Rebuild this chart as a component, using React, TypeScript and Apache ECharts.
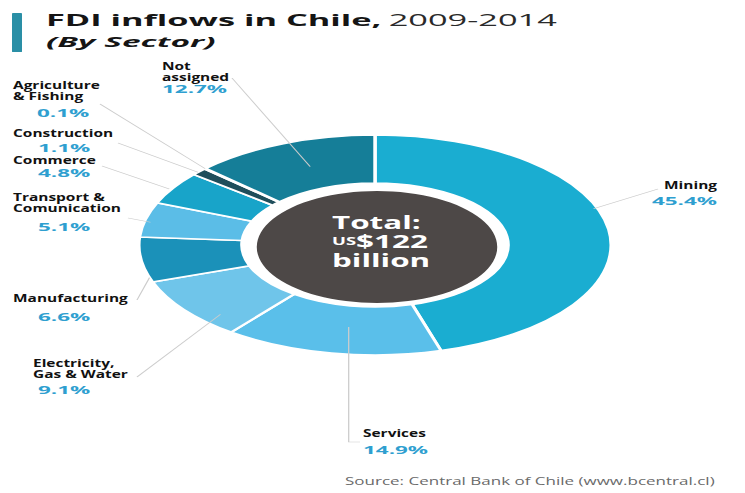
import React, { useEffect, useRef } from "react";
import * as echarts from "echarts";

// ---------- data ----------
const categories = [
  "Mining",
  "Services",
  "Electricity,\nGas & Water",
  "Manufacturing",
  "Transport &\nComunication",
  "Commerce",
  "Construction",
  "Agriculture\n& Fishing",
  "Not\nassigned",
];
const shares = [45.4, 14.9, 9.1, 6.6, 5.1, 4.8, 1.1, 0.1, 12.7];
const sliceColors = [
  "#1aadd1",
  "#5abfea",
  "#6fc5ea",
  "#1b91b9",
  "#5bbde7",
  "#18a4c9",
  "#1f4e5b",
  "#16758c",
  "#157e98",
];
const titleMain = "FDI inflows in Chile,";
const titleYears = "2009-2014";
const subtitle = "(By Sector)";
const totalLines = ["Total:", "US", "$122", "billion"];
const sourceText = "Source: Central Bank of Chile (www.bcentral.cl)";

// ---------- layout (reference pixel coordinates) ----------
const W = 745;
const H = 493;
const INNER_W = 347;
const SX = W / INNER_W; // whole picture is stretched horizontally
const CX = 375 / SX;
const CY = 245;
const R_IN = 62;
const R_OUT = 110;

type LabelLayout = {
  nx: number; ny: number; px: number; py: number; align: "left" | "right";
  t: number; r: number; pts: number[][]; vertical?: boolean;
};
const labelLayout: LabelLayout[] = [
  { nx: 717, ny: 185, px: 717, py: 201, align: "right", t: 0.43, r: 108, pts: [[658, 189]] },
  { nx: 363, ny: 433, px: 363, py: 450, align: "left", t: 0.46, r: 83, pts: [[360, 442], [350, 442]], vertical: true },
  { nx: 33, ny: 363, px: 38, py: 390, align: "left", t: 0.26, r: 100, pts: [[137, 377]] },
  { nx: 13, ny: 298, px: 38, py: 317, align: "left", t: 0.1, r: 110, pts: [[137, 300]] },
  { nx: 13, ny: 197, px: 38, py: 227, align: "left", t: 0.44, r: 107, pts: [[128, 218]] },
  { nx: 13, ny: 160, px: 38, py: 173, align: "left", t: 0.45, r: 111, pts: [[102, 166]] },
  { nx: 13, ny: 133, px: 38, py: 148, align: "left", t: 0.4, r: 110, pts: [[118, 143]] },
  { nx: 13, ny: 85, px: 37, py: 113, align: "left", t: 0.5, r: 110, pts: [[100, 104]] },
  { nx: 162, ny: 66, px: 162, py: 89, align: "left", t: 0.54, r: 84, pts: [[232, 78]] },
];

const LABEL_FONT = "'Open Sans', 'DejaVu Sans', sans-serif";

function buildOption() {
  const total = shares.reduce((a, b) => a + b, 0);
  const graphics: any[] = [];

  // title bar + titles
  graphics.push({
    type: "rect",
    shape: { x: 12 / SX, y: 13, width: 10 / SX, height: 39, r: 0.5 },
    style: { fill: "#2a8fa6" },
  });
  graphics.push({
    type: "text",
    x: 46 / SX,
    y: 20,
    style: {
      text: `{b|${titleMain}} {n|${titleYears}}`,
      verticalAlign: "middle",
      rich: {
        b: { fontFamily: LABEL_FONT, fontWeight: "bold", fontSize: 16, fill: "#151515", lineHeight: 18 },
        n: { fontFamily: LABEL_FONT, fontWeight: "normal", fontSize: 16, fill: "#2a2a2a", lineHeight: 18 },
      },
    },
  });
  graphics.push({
    type: "text",
    x: 46 / SX,
    y: 41,
    scaleX: 1.04,
    style: {
      text: subtitle,
      verticalAlign: "middle",
      fontFamily: LABEL_FONT,
      fontWeight: "bold",
      fontStyle: "italic",
      fontSize: 15,
      lineHeight: 17,
      fill: "#151515",
    },
  });

  // centre disc and total
  graphics.push({
    type: "circle",
    shape: { cx: CX + 2 / SX, cy: CY + 2, r: 56 },
    style: { fill: "#4d4847" },
  });
  graphics.push({
    type: "text",
    x: 332 / SX,
    y: 241,
    scaleX: 0.86,
    style: {
      text: `{b|${totalLines[0]}}\n{s|${totalLines[1]}}{b|${totalLines[2]}}\n{b|${totalLines[3]}}`,
      verticalAlign: "middle",
      lineHeight: 19,
      rich: {
        b: { fontFamily: LABEL_FONT, fontWeight: "bold", fontSize: 17, fill: "#ffffff", lineHeight: 19 },
        s: { fontFamily: LABEL_FONT, fontWeight: "bold", fontSize: 10, fill: "#ffffff", lineHeight: 19 },
      },
    },
  });

  // labels and leader lines
  let cum = 0;
  shares.forEach((v, i) => {
    const L = labelLayout[i];
    const f = (cum + v * L.t) / total;
    cum += v;
    const a = f * Math.PI * 2;
    const sp = [CX + L.r * Math.sin(a), CY - L.r * Math.cos(a)];
    const pts = L.pts.map((p) => [p[0] / SX, p[1]]);
    if (L.vertical) pts[pts.length - 1][0] = sp[0];
    graphics.push({
      type: "polyline",
      shape: { points: [...pts, sp] },
      style: { stroke: "#cccccc", lineWidth: 0.6, fill: null },
    });
    graphics.push({
      type: "text",
      x: L.nx / SX,
      y: L.ny - 5.5,
      scaleX: 0.72,
      style: {
        text: categories[i],
        align: L.align,
        verticalAlign: "top",
        lineHeight: 11,
        fontFamily: LABEL_FONT,
        fontWeight: "bold",
        fontSize: 10,
        fill: "#111111",
      },
    });
    graphics.push({
      type: "text",
      x: L.px / SX,
      y: L.py,
      scaleX: 0.95,
      style: {
        text: v.toFixed(1) + "%",
        align: L.align,
        verticalAlign: "middle",
        fontFamily: LABEL_FONT,
        fontWeight: "bold",
        fontSize: 11,
        fill: "#2f9fd0",
      },
    });
  });

  graphics.push({
    type: "text",
    x: 345 / SX,
    y: 481,
    scaleX: 0.72,
    style: {
      text: sourceText,
      verticalAlign: "middle",
      fontFamily: LABEL_FONT,
      fontSize: 11,
      fill: "#6a6a6a",
    },
  });

  return {
    animation: false,
    backgroundColor: "#ffffff",
    series: [
      {
        type: "pie",
        silent: true,
        center: [CX, CY],
        radius: [R_IN, R_OUT],
        startAngle: 90,
        clockwise: true,
        avoidLabelOverlap: false,
        label: { show: false },
        labelLine: { show: false },
        emphasis: { disabled: true },
        itemStyle: { borderColor: "#ffffff", borderWidth: 1.6 },
        data: categories.map((c, i) => ({
          name: c.replace("\n", " "),
          value: shares[i],
          itemStyle: { color: sliceColors[i] },
        })),
      },
    ],
    graphic: { elements: graphics.map((g) => ({ ...g, z: 10 })) },
  };
}

export default function App() {
  const ref = useRef<HTMLDivElement>(null);
  useEffect(() => {
    if (!ref.current) return;
    const chart = echarts.init(ref.current, null, { renderer: "svg" });
    chart.setOption(buildOption() as any);
    return () => chart.dispose();
  }, []);
  return (
    <div
      style={{
        position: "fixed",
        left: 0,
        top: 0,
        width: W,
        height: H,
        overflow: "hidden",
        background: "#ffffff",
      }}
    >
      <div
        ref={ref}
        style={{
          width: INNER_W,
          height: H,
          transform: `scaleX(${SX})`,
          transformOrigin: "0 0",
        }}
      />
    </div>
  );
}
